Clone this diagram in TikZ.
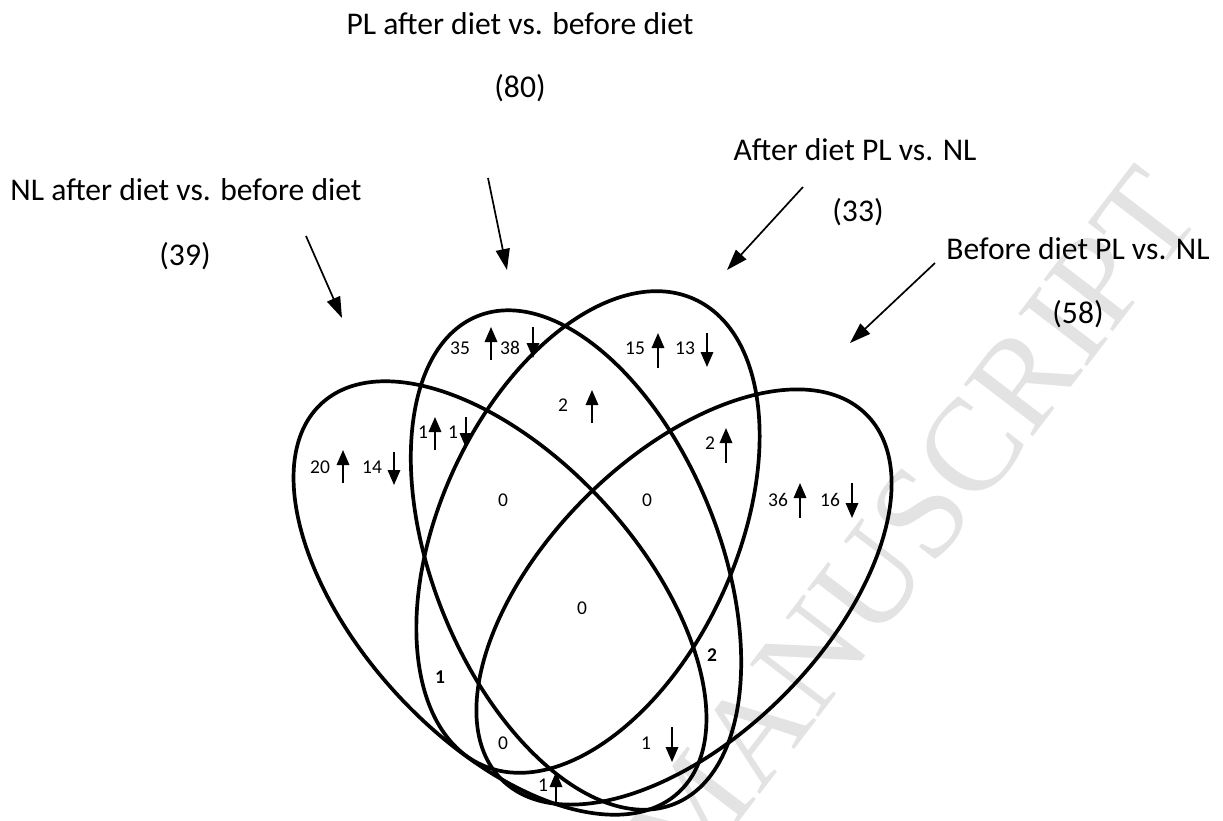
\documentclass[tikz,border=0pt]{standalone}
\usepackage{fontspec}
\setmainfont{Carlito}
\newfontfamily\wmfont{Liberation Serif}
\usetikzlibrary{arrows.meta}
\begin{document}
\begin{tikzpicture}[x=1pt,y=-1pt,
  venn/.style={line width=3.7pt},
  lbl/.style={font=\fontsize{31.6}{36}\selectfont, inner sep=0pt},
  num/.style={font=\fontsize{19.5}{22}\selectfont, inner sep=0pt},
  bnum/.style={font=\fontsize{19.5}{22}\selectfont\bfseries, inner sep=0pt},
  pointer/.style={line width=1.7pt, -{Triangle[width=14pt,length=21pt]}},
  updown/.style={line width=1.7pt, -{Triangle[width=12.5pt,length=15pt]}},
]
\useasboundingbox (0,0) rectangle (1223,821);
% watermark
\node[font=\wmfont\fontsize{132}{132}\selectfont, text=black!11, rotate=52.6, inner sep=0pt] (wm) at (912,525) {MANUSCRIPT};

% ellipses
\draw[venn, rotate around={-47.5:(500,598)}] (500,598) ellipse [x radius=264pt, y radius=141pt];
\draw[venn, rotate around={-68:(576,560)}] (576,560) ellipse [x radius=263pt, y radius=143pt];
\draw[venn, rotate around={65.4:(588,532)}] (588,532) ellipse [x radius=256pt, y radius=148pt];
\draw[venn, rotate around={45:(684,597)}] (684,597) ellipse [x radius=258pt, y radius=140pt];

% titles
\node[lbl] (plT) at (520,24) {PL after diet vs. before diet};
\node[lbl] (plN) at (520,88) {(80)};
\node[lbl] (afT) at (855,150) {After diet PL vs. NL};
\node[lbl] (afN) at (858,212) {(33)};
\node[lbl] (nlT) at (186,190) {NL after diet vs. before diet};
\node[lbl] (nlN) at (185,256) {(39)};
\node[lbl] (bfT) at (1078,249) {Before diet PL vs. NL};
\node[lbl] (bfN) at (1078,314) {(58)};

% pointer arrows
\coordinate (nlS) at (306,236); \coordinate (nlE) at (342,318);
\coordinate (plS) at (488,178); \coordinate (plE) at (507,270);
\coordinate (afS) at (803,187); \coordinate (afE) at (727,270);
\coordinate (bfS) at (935,263); \coordinate (bfE) at (850,343);
\draw[pointer] (nlS) -- (nlE);
\draw[pointer] (plS) -- (plE);
\draw[pointer] (afS) -- (afE);
\draw[pointer] (bfS) -- (bfE);

% region counts
\node[num] (n35) at (460,348) {35};
\node[num] (n38) at (510,348) {38};
\node[num] (n1a) at (423,432) {1};
\node[num] (n1b) at (453,432) {1};
\node[num] (n20) at (320,467) {20};
\node[num] (n14) at (372,467) {14};
\node[num] (n2a) at (563,405) {2};
\node[num] (n15) at (635,348) {15};
\node[num] (n13) at (685,348) {13};
\node[num] (n2b) at (710,443) {2};
\node[num] (z1) at (503,500) {0};
\node[num] (z2) at (647,500) {0};
\node[num] (n36) at (778,500) {36};
\node[num] (n16) at (830,500) {16};
\node[num] (z3) at (582,608) {0};
\node[bnum] (b1) at (440,677) {1};
\node[bnum] (b2) at (712,655) {2};
\node[num] (z4) at (503,743) {0};
\node[num] (n1c) at (646,743) {1};
\node[num] (n1d) at (543,785) {1};

% up / down marks
\draw[updown] (491,360) -- (491,327);
\draw[updown] (533,327) -- (533,358);
\draw[updown] (435,450) -- (435,417);
\draw[updown] (466,417) -- (466,448);
\draw[updown] (343,483) -- (343,450);
\draw[updown] (394,452) -- (394,485);
\draw[updown] (592,423) -- (592,390);
\draw[updown] (658,368) -- (658,333);
\draw[updown] (707,333) -- (707,367);
\draw[updown] (726,463) -- (726,428);
\draw[updown] (800,518) -- (800,483);
\draw[updown] (852,483) -- (852,518);
\draw[updown] (556,805) -- (556,772);
\draw[updown] (672,727) -- (672,762);
\end{tikzpicture}
\end{document}
